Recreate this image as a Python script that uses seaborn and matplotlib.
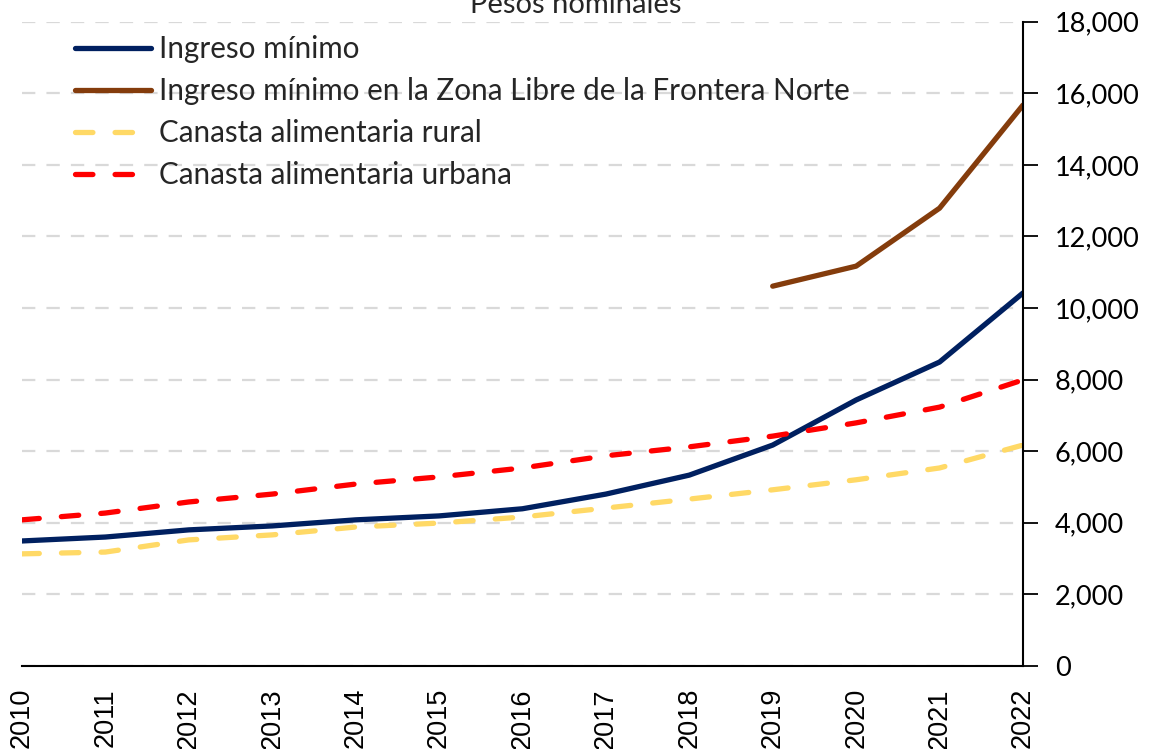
import numpy as np
import pandas as pd
import matplotlib
matplotlib.use('Agg')
import matplotlib.pyplot as plt
import seaborn as sns
from matplotlib.ticker import FuncFormatter

sns.set_style('white')
plt.rcParams['font.family'] = ['Lato', 'DejaVu Sans']

years = list(range(2010, 2023))
ingreso_minimo = [3490, 3600, 3800, 3910, 4080, 4190, 4390, 4800, 5330, 6170, 7430, 8490, 10420]
zona_years = [2019, 2020, 2021, 2022]
ingreso_zona = [10610, 11170, 12790, 15670]
canasta_rural = [3130, 3180, 3520, 3660, 3880, 3990, 4160, 4410, 4660, 4920, 5200, 5530, 6170]
canasta_urbana = [4080, 4270, 4580, 4800, 5080, 5280, 5530, 5870, 6120, 6420, 6790, 7230, 7990]

fig = plt.figure(figsize=(11.52, 7.49), dpi=100)
ax = fig.add_axes([0.019, 0.111, 0.869, 0.860])

lw = 3.8
dash = (0, (3.3, 4.2))
sns.lineplot(x=years, y=ingreso_minimo, ax=ax, color='#002060', lw=lw, label='Ingreso mínimo')
sns.lineplot(x=zona_years, y=ingreso_zona, ax=ax, color='#843C0C', lw=lw,
             label='Ingreso mínimo en la Zona Libre de la Frontera Norte')
sns.lineplot(x=years, y=canasta_rural, ax=ax, color='#FFD966', lw=lw, linestyle=dash,
             dash_capstyle='round', label='Canasta alimentaria rural')
sns.lineplot(x=years, y=canasta_urbana, ax=ax, color='#FF0000', lw=lw, linestyle=dash,
             dash_capstyle='round', label='Canasta alimentaria urbana')

ax.set_xlim(2010, 2022)
ax.set_ylim(0, 18000)
ax.set_xticks(years)
ax.set_xticklabels([str(y) for y in years], rotation=90, fontsize=19.5, family='Liberation Sans')
ax.set_yticks(np.arange(0, 18001, 2000))
ax.yaxis.set_major_formatter(FuncFormatter(lambda v, p: f'{int(v):,}'))
ax.yaxis.tick_right()
ax.tick_params(axis='y', labelsize=19.5, length=11, width=1.3, direction='out', pad=12, colors='black')
ax.tick_params(axis='x', length=9, width=1.3, direction='out', pad=7, colors='black')

ax.grid(axis='y', color='#D9D9D9', linestyle=(0, (6, 5)), lw=1.6)
ax.grid(axis='x', visible=False)
for s in ['left', 'top']:
    ax.spines[s].set_visible(False)
for s in ['right', 'bottom']:
    ax.spines[s].set_color('black')
    ax.spines[s].set_linewidth(1.5)
ax.set_xlabel('')
ax.set_ylabel('')

leg = ax.legend(loc='upper left', bbox_to_anchor=(0.026, 1.02), frameon=False,
                handlelength=2.6, handletextpad=0.27, labelspacing=0.47,
                prop={'family': 'Lato', 'size': 21.3})

fig.text(0.5, 0.993, 'Pesos nominales', ha='center', va='center', fontsize=21, family='Lato')

fig.savefig('out.png', dpi=100)
